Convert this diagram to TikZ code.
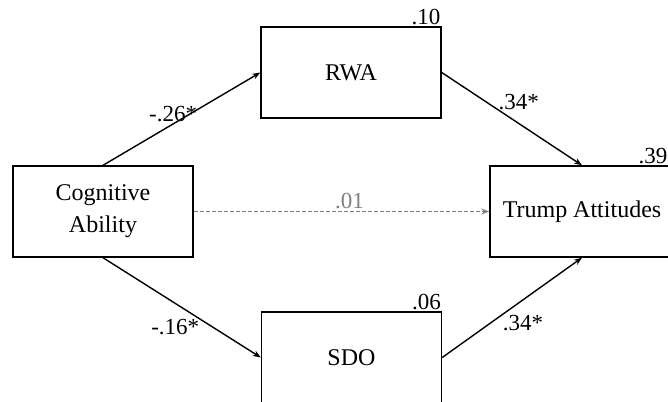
\documentclass[tikz,border=0pt]{standalone}
\usepackage{fontspec}
\setmainfont{Liberation Serif}
\usetikzlibrary{arrows.meta}
\begin{document}
\begin{tikzpicture}[x=0.5pt, y=-0.5pt, >={Stealth[length=4pt,width=3pt]},
    var/.style={draw, line width=0.7pt, minimum width=90pt, minimum height=45.5pt,
      inner sep=0pt, align=center, font=\fontsize{12}{16}\selectfont},
    path/.style={->, line width=0.7pt},
    coef/.style={font=\fontsize{11.5}{13}\selectfont, inner sep=1pt},
    rsq/.style={font=\fontsize{11.5}{13}\selectfont, inner sep=0.5pt, anchor=south east}]
        % Frame of the picture
        \clip (0,0) rectangle (668,401);
        \fill[white] (0,0) rectangle (668,401);

        % Variables
        \node[var] (cog) at (103,211.5) {Cognitive\\Ability};
        \node[var] (rwa) at (351,72.5) {RWA};
        \node[var] (sdo) at (351.5,357.5) {SDO};
        \node[var, minimum width=92pt] (trump) at (582,211.5) {Trump Attitudes};

        % Explained variance
        \node[rsq] at (rwa.north east) {.10};
        \node[rsq] at ([xshift=-3pt]trump.north east) {.39};
        \node[rsq] at (sdo.north east) {.06};

        % Paths through RWA
        \draw[path] (cog.north) -- (rwa.west)
            node[coef, pos=0.45, above left=-3pt, xshift=10pt, yshift=2.5pt] {-.26*};
        \draw[path] (rwa.east) -- (trump.north)
            node[coef, pos=0.5, above right=1pt, xshift=-9pt, yshift=2pt] {.34*};

        % Paths through SDO
        \draw[path] (cog.south) -- (sdo.west)
            node[coef, pos=0.5, below left=1pt, xshift=11pt, yshift=-3.5pt] {-.16*};
        \draw[path] (sdo.east) -- (trump.south)
            node[coef, pos=0.5, below right=1pt, xshift=-7pt, yshift=-1.5pt] {.34*};

        % Direct path
        \draw[path, gray, dashed, dash pattern=on 2pt off 1pt] (cog.east) -- (trump.west)
            node[coef, midway, above, xshift=4pt] {.01};
    \end{tikzpicture}
\end{document}
